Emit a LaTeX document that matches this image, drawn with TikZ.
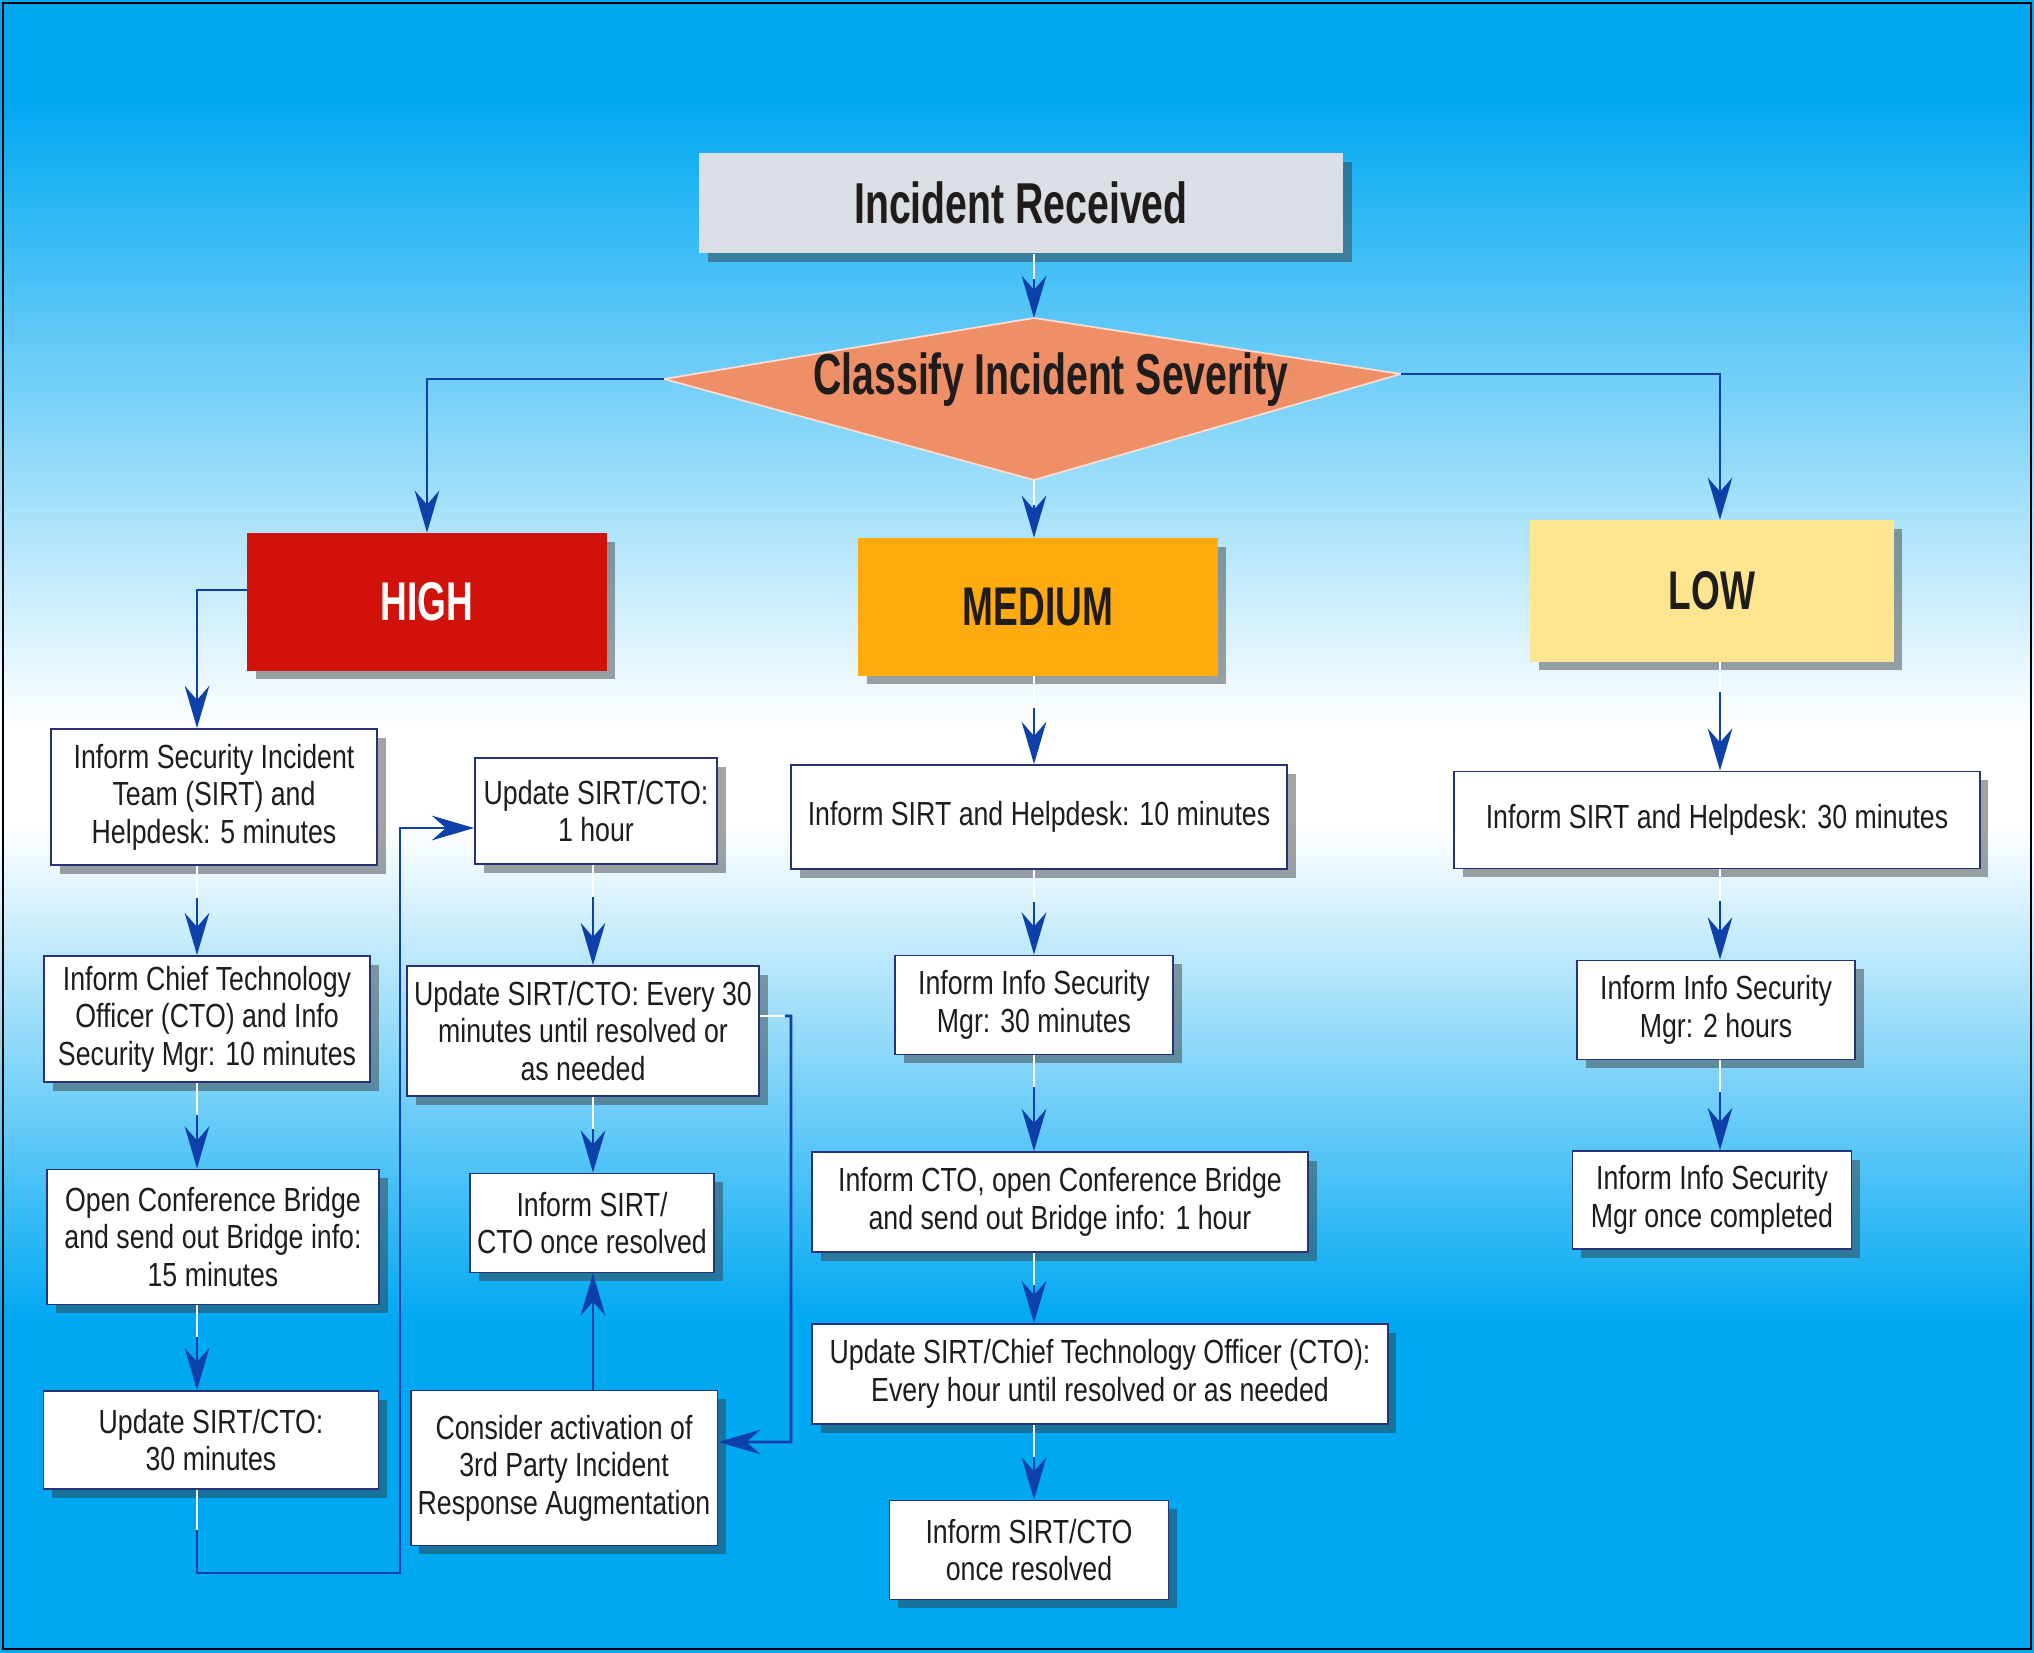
\documentclass[tikz,border=0pt]{standalone}
\usepackage{fontspec}
\setmainfont{Liberation Sans}[FakeStretch=0.8]
\newfontfamily\headfont{Liberation Sans}[FakeStretch=0.68]
\usetikzlibrary{shadows,arrows.meta}

\definecolor{skyblue}{RGB}{0,168,242}
\definecolor{highred}{RGB}{208,18,10}
\definecolor{medorange}{RGB}{255,171,16}
\definecolor{lowyellow}{RGB}{253,230,143}
\definecolor{titlegray}{RGB}{218,223,229}
\definecolor{kitefill}{RGB}{239,143,104}
\definecolor{linkblue}{RGB}{14,64,170}
\definecolor{boxline}{RGB}{40,50,120}
\definecolor{inkblack}{RGB}{32,28,28}
\pgfdeclareverticalshading{skyshade}{100bp}{color(0bp)=(skyblue); color(35bp)=(skyblue); color(50bp)=(white); color(53bp)=(white); color(72bp)=(skyblue); color(100bp)=(skyblue)}

\begin{document}
\begin{tikzpicture}[x=0.01cm,y=-0.01cm]
\tikzstyle{boxshadow}=[drop shadow={shadow xshift=2.5pt, shadow yshift=-2.5pt, opacity=0.45, fill=black!80}]
\tikzstyle{stepbox}=[
  rectangle, boxshadow,
  draw=boxline, line width=0.5pt, fill=white,
  text=inkblack, align=center, inner sep=2pt,
  font=\fontsize{9.5}{10.7}\selectfont ]
\tikzstyle{levelbox}=[
  rectangle, boxshadow, text=inkblack,
  minimum width=3.59cm, minimum height=1.37cm,
  font=\headfont\bfseries\fontsize{15.5}{17}\selectfont ]
\tikzstyle{flow}=[draw=linkblue, line width=0.8pt, -{Stealth[length=12pt,width=7pt,inset=4pt]}]
\tikzstyle{stub}=[draw=white, line width=0.6pt]

% background and frame
\useasboundingbox (0,0) rectangle (2034,1652);
\shade[shading=skyshade] (0,0) rectangle (2034,1652);
\draw[black, line width=0.6pt] (3,3) rectangle (2031,1649);

% arrow columns
\coordinate (hx) at (197,0);
\coordinate (ux) at (593,0);
\coordinate (mx) at (1034,0);
\coordinate (lx) at (1720,0);

% top
\node[levelbox, fill=titlegray, minimum width=6.44cm, minimum height=1cm,
  font=\headfont\bfseries\fontsize{16.4}{18}\selectfont] (received) at (1021,203) {Incident Received};
\coordinate (ctop) at (1034,318);
\coordinate (cleft) at (664,379);
\coordinate (cright) at (1401,374);
\coordinate (cbot) at (1034,480);
\filldraw[fill=kitefill, draw=white!70!kitefill, line width=0.5pt] (ctop) -- (cright) -- (cbot) -- (cleft) -- cycle;
\node[text=inkblack, font=\headfont\bfseries\fontsize{16.4}{18}\selectfont] (classify) at (1051,380) {Classify Incident Severity};

% severity levels
\node[levelbox, fill=highred, text=white] (high) at (427,602) {HIGH};
\node[levelbox, fill=medorange] (medium) at (1038,607) {MEDIUM};
\node[levelbox, fill=lowyellow, minimum width=3.63cm, minimum height=1.41cm] (low) at (1712,591) {LOW};

% high
\node[stepbox, minimum width=3.26cm, minimum height=1.36cm] (h1) at (214,797) {Inform Security Incident\\Team (SIRT) and\\Helpdesk: 5 minutes};
\node[stepbox, minimum width=3.26cm, minimum height=1.26cm] (h2) at (207,1019) {Inform Chief Technology\\Officer (CTO) and Info\\Security Mgr: 10 minutes};
\node[stepbox, minimum width=3.32cm, minimum height=1.35cm] (h3) at (213,1237) {Open Conference Bridge\\and send out Bridge info:\\15 minutes};
\node[stepbox, minimum width=3.35cm, minimum height=0.98cm] (h4) at (211,1440) {Update SIRT/CTO:\\30 minutes};
\node[stepbox, minimum width=2.42cm, minimum height=1.06cm] (u1) at (596,811) {Update SIRT/CTO:\\1 hour};
\node[stepbox, minimum width=3.42cm, minimum height=1.30cm] (u2) at (583,1031) {Update SIRT/CTO: Every 30\\minutes until resolved or\\as needed};
\node[stepbox, minimum width=2.43cm, minimum height=0.99cm] (u3) at (592,1223) {Inform SIRT/\\CTO once resolved};
\node[stepbox, minimum width=3.06cm, minimum height=1.55cm] (u4) at (564,1468) {Consider activation of\\3rd Party Incident\\Response Augmentation};

% medium
\node[stepbox, minimum width=4.96cm, minimum height=1.04cm] (m1) at (1039,817) {Inform SIRT and Helpdesk: 10 minutes};
\node[stepbox, minimum width=2.78cm, minimum height=0.99cm] (m2) at (1034,1005) {Inform Info Security\\Mgr: 30 minutes};
\node[stepbox, minimum width=4.96cm, minimum height=1.00cm] (m3) at (1060,1202) {Inform CTO, open Conference Bridge\\and send out Bridge info: 1 hour};
\node[stepbox, minimum width=5.75cm, minimum height=1.00cm] (m4) at (1100,1374) {Update SIRT/Chief Technology Officer (CTO):\\Every hour until resolved or as needed};
\node[stepbox, minimum width=2.79cm, minimum height=0.99cm] (m5) at (1029,1550) {Inform SIRT/CTO\\once resolved};

% low
\node[stepbox, minimum width=5.25cm, minimum height=0.97cm] (l1) at (1717,820) {Inform SIRT and Helpdesk: 30 minutes};
\node[stepbox, minimum width=2.78cm, minimum height=0.99cm] (l2) at (1716,1010) {Inform Info Security\\Mgr: 2 hours};
\node[stepbox, minimum width=2.79cm, minimum height=0.98cm] (l3) at (1712,1200) {Inform Info Security\\Mgr once completed};

% connectors
\draw[stub] (received.south -| mx) -- ++(0,25);
\draw[flow] (received.south -| mx) ++(0,25) -- (ctop);
\draw[stub] (cbot) -- ++(0,25);
\draw[flow] (cbot) ++(0,25) -- (medium.north -| mx);
\draw[flow] (cleft) -| (high.north);
\draw[flow] (cright) -| (lx |- low.north);
\draw[stub] (low.south -| lx) -- ++(0,30);
\draw[flow] (low.south -| lx) ++(0,30) -- (l1.north -| lx);
\draw[flow] ([yshift=0.12cm]high.west) -| (h1.north -| hx);
\foreach \a/\b/\c in {h1/h2/hx, h2/h3/hx, h3/h4/hx, u1/u2/ux, u2/u3/ux,
    medium/m1/mx, m1/m2/mx, m2/m3/mx, m3/m4/mx, m4/m5/mx, l1/l2/lx, l2/l3/lx} {
  \draw[stub] (\a.south -| \c) -- ++(0,32);
  \draw[flow] (\a.south -| \c) ++(0,32) -- (\b.north -| \c);
}
\coordinate (loopl) at (400,1573);
\coordinate (loopr) at (791,1442);
\draw[stub] (h4.south -| hx) -- ++(0,40);
\draw[flow] (h4.south -| hx) ++(0,40) -- (hx |- loopl) -- (loopl) |- ([yshift=-0.17cm]u1.west);
\draw[stub] ([yshift=0.15cm]u2.east) -- ++(25,0);
\draw[flow] ([yshift=0.15cm]u2.east) ++(25,0) -| (loopr) -- ([yshift=0.26cm]u4.east);
\draw[flow] (u4.north -| ux) -- (u3.south -| ux);
\end{tikzpicture}
\end{document}
